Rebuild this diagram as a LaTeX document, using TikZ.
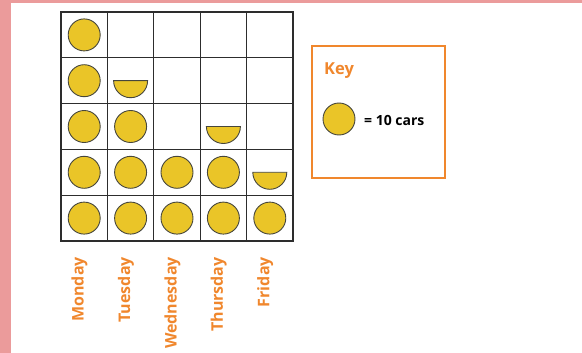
\documentclass[tikz,border=0pt]{standalone}
\usepackage{fontspec}
\setsansfont{Open Sans}
\definecolor{pinkedge}{RGB}{235,155,155}
\definecolor{coinyellow}{RGB}{234,197,40}
\definecolor{coinedge}{RGB}{70,70,60}
\definecolor{gridgray}{RGB}{45,45,45}
\definecolor{keyorange}{RGB}{240,135,45}
\tikzset{
  coin/.style={fill=coinyellow,draw=coinedge,line width=0.9pt},
  gridline/.style={draw=gridgray,line width=1.3pt},
  daylabel/.style={rotate=90,anchor=east,text=keyorange,font=\sffamily\bfseries\fontsize{16}{17}\selectfont,inner sep=0pt},
  keybox/.style={draw=keyorange,line width=2pt,minimum width=133pt,minimum height=132pt,inner sep=0pt}
}
\begin{document}
\begin{tikzpicture}[x=1pt,y=-1pt]
    \useasboundingbox (0,0) rectangle (582,353);
    \fill[pinkedge] (0,0) rectangle (582,3);
    \fill[pinkedge] (0,0) rectangle (11,353);
    % the chart, one unit per cell
    \begin{scope}[shift={(61,12)},x=46.4pt,y=-45.8pt]
        \draw[gridline] (0,0) rectangle (5,5);
        \draw[gridline] (1,0) -- (1,5) (2,0) -- (2,5) (3,0) -- (3,5) (4,0) -- (4,5);
        \draw[gridline] (0,1) -- (5,1) (0,2) -- (5,2) (0,3) -- (5,3) (0,4) -- (5,4);
        % Monday
        \filldraw[coin] (0.5,0.5) circle[radius=16pt];
        \filldraw[coin] (0.5,1.5) circle[radius=16pt];
        \filldraw[coin] (0.5,2.5) circle[radius=16pt];
        \filldraw[coin] (0.5,3.5) circle[radius=16pt];
        \filldraw[coin] (0.5,4.5) circle[radius=16pt];
        % Tuesday
        \filldraw[coin] (1.5,1.5) ++(-17pt,0) arc[start angle=180,end angle=360,radius=17pt] -- cycle;
        \filldraw[coin] (1.5,2.5) circle[radius=16pt];
        \filldraw[coin] (1.5,3.5) circle[radius=16pt];
        \filldraw[coin] (1.5,4.5) circle[radius=16pt];
        % Wednesday
        \filldraw[coin] (2.5,3.5) circle[radius=16pt];
        \filldraw[coin] (2.5,4.5) circle[radius=16pt];
        % Thursday
        \filldraw[coin] (3.5,2.5) ++(-17pt,0) arc[start angle=180,end angle=360,radius=17pt] -- cycle;
        \filldraw[coin] (3.5,3.5) circle[radius=16pt];
        \filldraw[coin] (3.5,4.5) circle[radius=16pt];
        % Friday
        \filldraw[coin] (4.5,3.5) ++(-17pt,0) arc[start angle=180,end angle=360,radius=17pt] -- cycle;
        \filldraw[coin] (4.5,4.5) circle[radius=16pt];
        % day names
        \node[daylabel] (mon) at (0.4,5.35) {Monday};
        \node[daylabel] (tue) at (1.4,5.35) {Tuesday};
        \node[daylabel] (wed) at (2.4,5.35) {Wednesday};
        \node[daylabel] (thu) at (3.4,5.35) {Thursday};
        \node[daylabel] (fri) at (4.4,5.35) {Friday};
    \end{scope}
    % key
    \node[keybox] (keyframe) at (378.3,112) {};
    \node[anchor=west,inner sep=0pt,text=keyorange,font=\sffamily\bfseries\fontsize{16.5}{17}\selectfont] (keytitle) at (324,71) {Key};
    \filldraw[coin] (339,119) circle[radius=16pt] coordinate (keycoin);
    \node[anchor=west,inner sep=0pt,font=\sffamily\bfseries\fontsize{14}{15}\selectfont] (keytext) at (364,120) {= 10 cars};
\end{tikzpicture}
\end{document}
